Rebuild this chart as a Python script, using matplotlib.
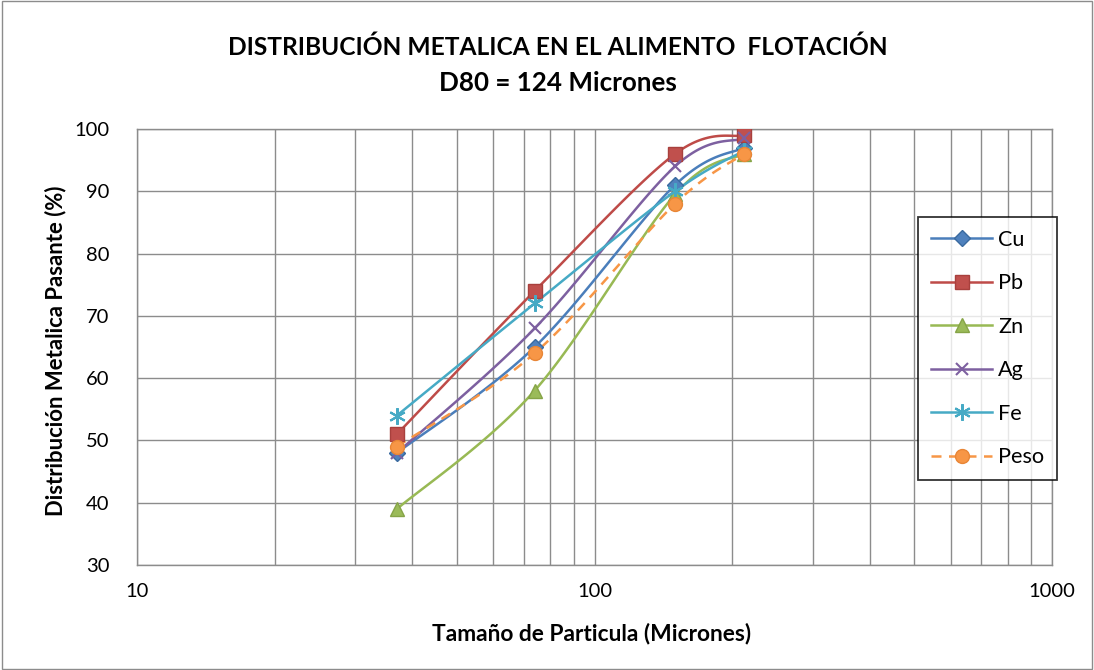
import numpy as np
import matplotlib
matplotlib.use("Agg")
import matplotlib.pyplot as plt
from matplotlib.ticker import FixedLocator, NullFormatter, FixedFormatter
from matplotlib.patches import Rectangle

# Particle size (microns) and cumulative metal passing (%)
sizes = [37, 74, 150, 212]
cu = [48, 65, 91, 97]
pb = [51, 74, 96, 99]
zn = [39, 58, 89.5, 96]
ag = [48, 68, 94, 98.5]
fe = [54, 72, 90, 96.5]
peso = [49, 64, 88, 96]

series_names = ["Cu", "Pb", "Zn", "Ag", "Fe", "Peso"]
series_values = [cu, pb, zn, ag, fe, peso]

title_lines = ["DISTRIBUCIÓN METALICA EN EL ALIMENTO  FLOTACIÓN", "D80 = 124 Micrones"]
xlabel_text = "Tamaño de Particula (Micrones)"
ylabel_text = "Distribución Metalica Pasante (%)"
xtick_values = [10, 100, 1000]
xtick_labels = ["10", "100", "1000"]

styles = [
    dict(color="#4A7EBB", marker="D", ms=8, mfc="#4F81BD", mec="#3A6A9F", ls="-"),
    dict(color="#BE4B48", marker="s", ms=10, mfc="#C0504D", mec="#A8403D", ls="-"),
    dict(color="#98B954", marker="^", ms=10, mfc="#9BBB59", mec="#86A447", ls="-"),
    dict(color="#7D60A0", marker="x", ms=9, mfc="none", mec="#7D60A0", ls="-", mew=1.5),
    dict(color="#46AAC5", marker=(6, 2, 0), ms=12, mfc="none", mec="#46AAC5", ls="-", mew=1.5),
    dict(color="#F79646", marker="o", ms=10, mfc="#F79646", mec="#E88636", ls=(0, (4, 3))),
]

plt.rcParams["font.family"] = ["Lato", "DejaVu Sans"]

W, H = 1094, 670
fig = plt.figure(figsize=(W / 100, H / 100), dpi=100)
ax = fig.add_axes([137 / W, 1 - 565 / H, (1052 - 137) / W, (565 - 129) / H])
renderer = fig.canvas.get_renderer()


def fit_size(text, width_px, weight="normal", start=12.0):
    # font size (pt) at which the text renders width_px pixels wide
    t = fig.text(0, 0, text, fontsize=start, fontweight=weight)
    w = t.get_window_extent(renderer).width
    t.remove()
    return start * width_px / w


XS, YS = 457.5, 6.229  # pixel scale per decade / per percent


def smooth(xv, yv, n=40):
    # Bezier smoothing in display-proportional space (log x)
    px = np.log10(np.asarray(xv, float)) * XS
    py = np.asarray(yv, float) * YS
    P = np.column_stack([px, py])
    m = len(P)
    out = []
    for i in range(m - 1):
        p0 = P[max(i - 1, 0)]
        p1 = P[i]
        p2 = P[i + 1]
        p3 = P[min(i + 2, m - 1)]
        c1 = p1 + (p2 - p0) / 6.0
        c2 = p2 - (p3 - p1) / 6.0
        t = np.linspace(0, 1, n)[:, None]
        b = ((1 - t) ** 3) * p1 + 3 * ((1 - t) ** 2) * t * c1 + 3 * (1 - t) * t ** 2 * c2 + t ** 3 * p2
        out.append(b if i == 0 else b[1:])
    B = np.vstack(out)
    return 10 ** (B[:, 0] / XS), B[:, 1] / YS


handles = []
for name, vals, st in zip(series_names, series_values, styles):
    sx, sy = smooth(sizes, vals)
    ax.plot(sx, sy, color=st["color"], lw=1.8, ls=st["ls"], zorder=3)
    ax.plot(sizes, vals, ls="none", marker=st["marker"], ms=st["ms"],
            mfc=st["mfc"], mec=st["mec"], mew=st.get("mew", 1.0), zorder=4)
    h, = ax.plot([], [], color=st["color"], lw=1.8, ls=st["ls"], marker=st["marker"],
                 ms=st["ms"], mfc=st["mfc"], mec=st["mec"], mew=st.get("mew", 1.0))
    handles.append(h)

tick_fs = fit_size("100", 35)

ax.set_xscale("log")
ax.set_xlim(10, 1000)
ax.set_ylim(30, 100)
ax.xaxis.set_major_locator(FixedLocator(xtick_values))
ax.xaxis.set_major_formatter(FixedFormatter(xtick_labels))
ax.xaxis.set_minor_locator(FixedLocator([k * d for d in (10, 100) for k in range(2, 10)]))
ax.xaxis.set_minor_formatter(NullFormatter())
ax.set_yticks(np.arange(30, 101, 10))

grid_c = "#8C8C8C"
ax.grid(True, which="major", color=grid_c, lw=1.0)
ax.grid(True, which="minor", axis="x", color=grid_c, lw=1.0)
ax.set_axisbelow(True)
for s in ax.spines.values():
    s.set_color(grid_c)
    s.set_linewidth(1.0)
ax.tick_params(axis="both", which="both", length=0, labelsize=tick_fs, colors="black")
ax.tick_params(axis="x", pad=13)
ax.tick_params(axis="y", pad=20)

# axis titles
fig.text(592 / W, 1 - 633 / H, xlabel_text, ha="center", va="center",
         fontsize=fit_size(xlabel_text, 319, "bold"), fontweight="bold")
fig.text(56 / W, 1 - 351 / H, ylabel_text, ha="center", va="center", rotation=90,
         fontsize=fit_size(ylabel_text, 328, "bold"), fontweight="bold")

# chart title, two centred lines
fig.text(558 / W, 1 - 47 / H, title_lines[0], ha="center", va="center",
         fontsize=fit_size(title_lines[0], 659, "bold"), fontweight="bold")
fig.text(558 / W, 1 - 83 / H, title_lines[1], ha="center", va="center",
         fontsize=fit_size(title_lines[1], 236, "bold"), fontweight="bold")

leg_fs = fit_size("Peso", 46)
fpx = leg_fs * 100 / 72
leg = ax.legend(handles, series_names, loc="upper left",
                bbox_to_anchor=((918 - 137) / 915, (565 - 217) / 436),
                frameon=True, fancybox=False, edgecolor="black", fontsize=leg_fs,
                handlelength=61 / fpx, labelspacing=(49.4 - 1.2 * fpx) / fpx,
                borderpad=13 / fpx, handletextpad=6 / fpx, borderaxespad=0)
leg.get_frame().set_linewidth(1.3)
leg.get_frame().set_facecolor("white")
leg.set_zorder(10)

fig.patches.append(Rectangle((0.002, 0.002), 0.996, 0.996, transform=fig.transFigure,
                             fill=False, edgecolor="#8C8C8C", lw=1.0))

fig.savefig("out.png", dpi=100, facecolor="white")
